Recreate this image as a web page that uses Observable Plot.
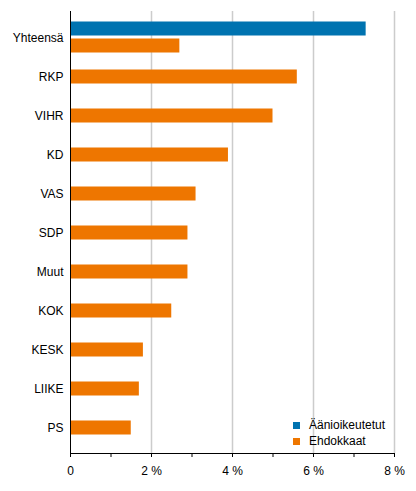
<!DOCTYPE html>
<html>
<head>
<meta charset="utf-8">
<script src="https://cdn.jsdelivr.net/npm/d3@7"></script>
<script src="https://cdn.jsdelivr.net/npm/@observablehq/plot@0.6"></script>
<style>
  body { margin: 0; background: #fff; }
  #wrap { position: relative; width: 416px; height: 491px; font-family: "Liberation Sans", Arial, sans-serif; }
  .legend { position: absolute; left: 293px; top: 417px; font-size: 12px; color: #000; line-height: 16px; }
  .legend div { display: flex; align-items: center; }
  .legend span.sw { display: inline-block; width: 7px; height: 7px; margin-right: 9px; }
</style>
</head>
<body>
<div id="wrap"></div>
<script>
const categories = ["Yhteensä", "RKP", "VIHR", "KD", "VAS", "SDP", "Muut", "KOK", "KESK", "LIIKE", "PS"];
const ehdokkaat = [2.7, 5.6, 5.0, 3.9, 3.1, 2.9, 2.9, 2.5, 1.8, 1.7, 1.5];
const aanioikeutetutCategory = ["Yhteensä"];
const aanioikeutetut = [7.3];
const seriesNames = ["Äänioikeutetut", "Ehdokkaat"];
const seriesColors = ["#0073b0", "#ee7600"];
const xTicks = [0, 1, 2, 3, 4, 5, 6, 7, 8];
const gridTicks = [2, 4, 6, 8];

const ehdRows = categories.map((c, i) => ({category: c, value: ehdokkaat[i]}));
const aanRows = aanioikeutetutCategory.map((c, i) => ({category: c, value: aanioikeutetut[i]}));
const total = categories[0];

const chart = Plot.plot({
  width: 416,
  height: 491,
  marginLeft: 70,
  marginRight: 22,
  marginTop: 11,
  marginBottom: 38,
  style: {fontSize: "12px", fontFamily: "'Liberation Sans', Arial, sans-serif", color: "#000", background: "#fff"},
  x: {
    domain: [0, 8],
    ticks: xTicks,
    tickFormat: d => d === 0 ? "0" : (d % 2 === 0 ? `${d} %` : ""),
    tickSize: 4,
    tickPadding: 9,
    line: true,
    label: null
  },
  y: {
    domain: categories,
    padding: 0,
    insetTop: 6.5,
    insetBottom: 6.5,
    tickSize: 0,
    tickPadding: 7,
    line: true,
    label: null
  },
  marks: [
    Plot.ruleX(gridTicks, {stroke: "#cccccc", strokeWidth: 1.5}),
    Plot.barX(aanRows, {x: "value", y: "category", fill: seriesColors[0], insetTop: 3.5, insetBottom: 21.5}),
    Plot.barX(ehdRows.filter(d => d.category === total), {x: "value", y: "category", fill: seriesColors[1], insetTop: 20.5, insetBottom: 4.5}),
    Plot.barX(ehdRows.filter(d => d.category !== total), {x: "value", y: "category", fill: seriesColors[1], insetTop: 12.5, insetBottom: 12.5}),
    Plot.ruleX([0], {stroke: "#000"})
  ]
});

const wrap = document.getElementById("wrap");
wrap.appendChild(chart);

const legend = document.createElement("div");
legend.className = "legend";
seriesNames.forEach((name, i) => {
  const row = document.createElement("div");
  const sw = document.createElement("span");
  sw.className = "sw";
  sw.style.background = seriesColors[i];
  row.appendChild(sw);
  row.appendChild(document.createTextNode(name));
  legend.appendChild(row);
});
wrap.appendChild(legend);
</script>
</body>
</html>
